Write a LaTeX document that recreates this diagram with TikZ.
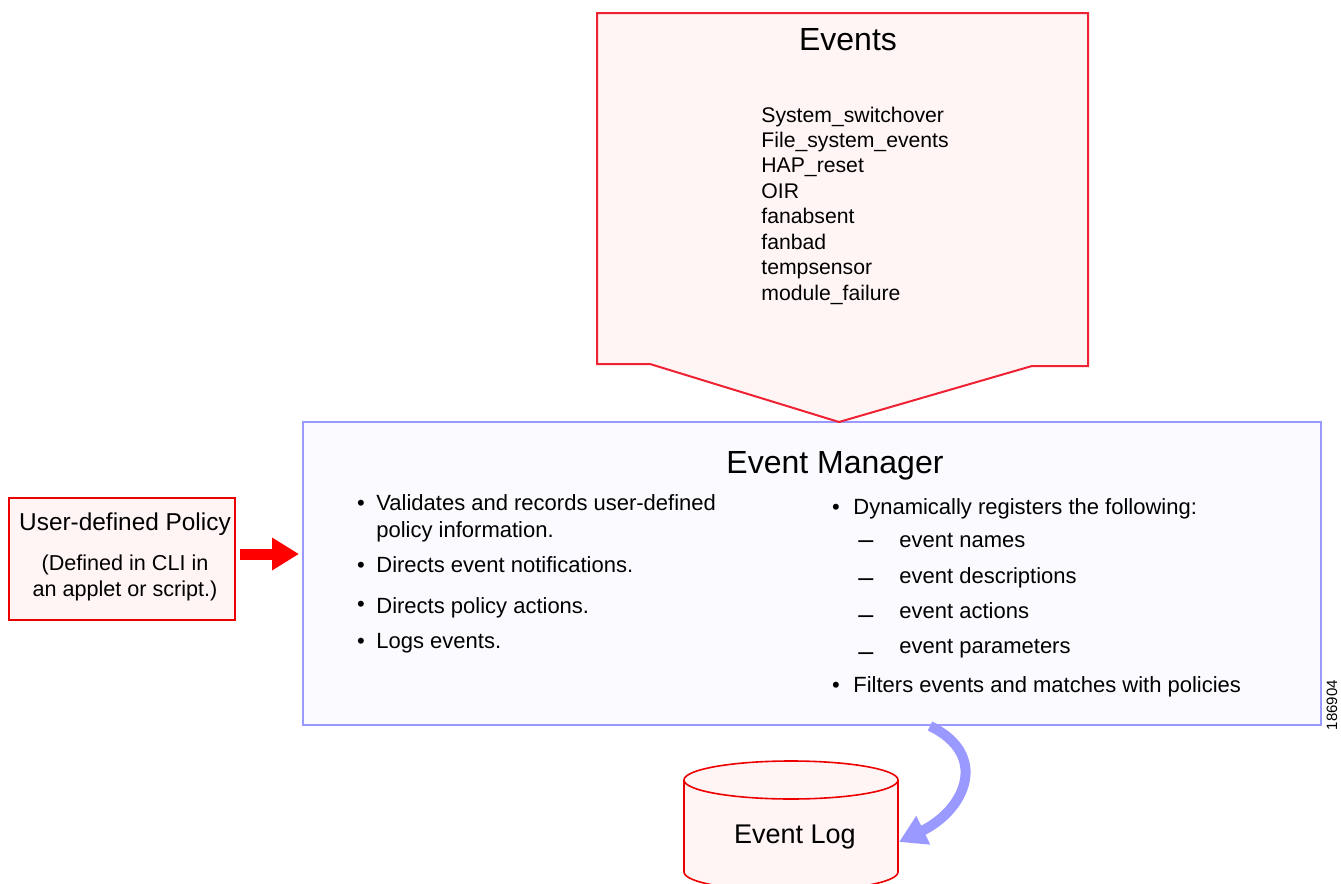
\documentclass[tikz,border=0pt]{standalone}
\usepackage{fontspec}
\setmainfont{Liberation Sans}
\usetikzlibrary{arrows.meta}

\definecolor{evred}{RGB}{238,34,51}
\definecolor{polred}{RGB}{236,0,0}
\definecolor{pinkfill}{RGB}{255,245,245}
\definecolor{mgrblue}{RGB}{153,153,255}
\definecolor{mgrfill}{RGB}{250,250,255}

\begin{document}
\begin{tikzpicture}[x=0.5pt,y=-0.5pt]
	\def \evtop{13}
	\def \mgrtop{422}
	\def \leftcol{376}
	\def \leftdot{361}
	\def \rightcol{853}
	\def \rightdot{836}
	\def \subcol{899}
	\def \dashcol{858}

	\tikzstyle{mgrbox}=[rectangle,draw=mgrblue,fill=mgrfill,line width=1pt,minimum width=509pt,minimum height=151.5pt,inner sep=0pt]
	\tikzstyle{polbox}=[rectangle,draw=polred,fill=pinkfill,line width=1pt,minimum width=113pt,minimum height=61pt,inner sep=0pt]
	\tikzstyle{evshape}=[draw=evred,fill=pinkfill,line width=1pt,line join=miter]
	\tikzstyle{logline}=[draw=polred,line width=0.8pt]
	% labels
	\tikzstyle{title}=[inner sep=0pt,anchor=base,font=\fontsize{16}{19}\selectfont]
	\tikzstyle{evitem}=[inner sep=0pt,anchor=base west,font=\fontsize{10.6}{12.8}\selectfont]
	\tikzstyle{item}=[inner sep=0pt,anchor=base west,font=\fontsize{11}{13}\selectfont]
	\tikzstyle{dashmark}=[inner sep=0pt,anchor=base west,font=\fontsize{13.5}{16}\selectfont]
	\tikzstyle{dot}=[inner sep=0pt,anchor=base,font=\fontsize{11}{13}\selectfont]
	\tikzstyle{poltitle}=[inner sep=0pt,anchor=base,font=\fontsize{12.2}{14}\selectfont]
	\tikzstyle{polnote}=[inner sep=0pt,anchor=base,font=\fontsize{10.8}{13}\selectfont]

	\useasboundingbox (0,0) rectangle (1341,884);

	% event manager
	\node[mgrbox]	(manager)	at (812,573.5)	{};
	\node[title]	(mgrtitle)	at (835,473)	{Event Manager};

	% events block
	\path[evshape] (597,\evtop) -- (1088,\evtop) -- (1088,366) -- (1032,366) -- (839,\mgrtop) -- (650,364) -- (597,364) -- cycle;
	\node[title]	(events)	at (848,50)		{Events};
	\node[evitem]	(ev1)	at (761,122)	{System\_switchover};
	\node[evitem]	(ev2)	at (761,147)	{File\_system\_events};
	\node[evitem]	(ev3)	at (761,172)	{HAP\_reset};
	\node[evitem]	(ev4)	at (761,198)	{OIR};
	\node[evitem]	(ev5)	at (761,223)	{fanabsent};
	\node[evitem]	(ev6)	at (761,249)	{fanbad};
	\node[evitem]	(ev7)	at (761,274)	{tempsensor};
	\node[evitem]	(ev8)	at (761,300)	{module\_failure};

	% left column
	\node[dot]	(ld1)	at (\leftdot,510)	{\textbullet};
	\node[item]	(li1)	at (\leftcol,510)	{Validates and records user-defined};
	\node[item]	(li1b)	at (\leftcol,537)	{policy information.};
	\node[dot]	(ld2)	at (\leftdot,572)	{\textbullet};
	\node[item]	(li2)	at (\leftcol,572)	{Directs event notifications.};
	\node[dot]	(ld3)	at (\leftdot,611)	{\textbullet};
	\node[item]	(li3)	at (\leftcol,613)	{Directs policy actions.};
	\node[dot]	(ld4)	at (\leftdot,648)	{\textbullet};
	\node[item]	(li4)	at (\leftcol,648)	{Logs events.};

	% right column
	\node[dot]	(rd1)	at (\rightdot,514)	{\textbullet};
	\node[item]	(ri1)	at (\rightcol,514)	{Dynamically registers the following:};
	\node[dashmark]	(rs1)	at (\dashcol,548)	{–};
	\node[item]	(ri2)	at (\subcol,547)	{event names};
	\node[dashmark]	(rs2)	at (\dashcol,586)	{–};
	\node[item]	(ri3)	at (\subcol,583)	{event descriptions};
	\node[dashmark]	(rs3)	at (\dashcol,623)	{–};
	\node[item]	(ri4)	at (\subcol,618)	{event actions};
	\node[dashmark]	(rs4)	at (\dashcol,660)	{–};
	\node[item]	(ri5)	at (\subcol,653)	{event parameters};
	\node[dot]	(rd2)	at (\rightdot,692)	{\textbullet};
	\node[item]	(ri6)	at (\rightcol,692)	{Filters events and matches with policies};

	% user policy
	\node[polbox]	(policy)	at (122,559)	{};
	\node[poltitle]	(poltext)	at (125,530)	{User-defined Policy};
	\node[polnote]	(polnote1)	at (125,570)	{(Defined in CLI in};
	\node[polnote]	(polnote2)	at (125,596)	{an applet or script.)};

	\coordinate (polout) at ([xshift=2pt,yshift=2.5pt]policy.east);
	\draw[red,line width=5.5pt,-{Triangle[length=13.5pt,width=15.5pt]},shorten >=1.5pt] (polout) -- (polout -| manager.west);

	% event log
	\path[fill=pinkfill] (684,780) -- (684,872) arc[start angle=180,end angle=0,x radius=107,y radius=19] -- (898,780) -- cycle;
	\draw[logline] (684,780) -- (684,872) arc[start angle=180,end angle=0,x radius=107,y radius=19] -- (898,780);
	\draw[logline,fill=pinkfill] (791,780) ellipse [x radius=107,y radius=19];
	\node[inner sep=0pt,anchor=base,font=\fontsize{13.5}{16}\selectfont]	(log)	at (795,843)	{Event Log};
	\coordinate (logside) at (899,842);

	\coordinate (mgrout) at ([xshift=59pt]manager.south);
	\draw[mgrblue,line width=5pt,-{Triangle[length=13.5pt,width=15pt]}] (mgrout) .. controls (990,755) and (965,810) .. (logside);

	\node[inner sep=0pt,rotate=90,font=\fontsize{7.5}{9}\selectfont]	(figno)	at (1332,705)	{186904};
\end{tikzpicture}
\end{document}
